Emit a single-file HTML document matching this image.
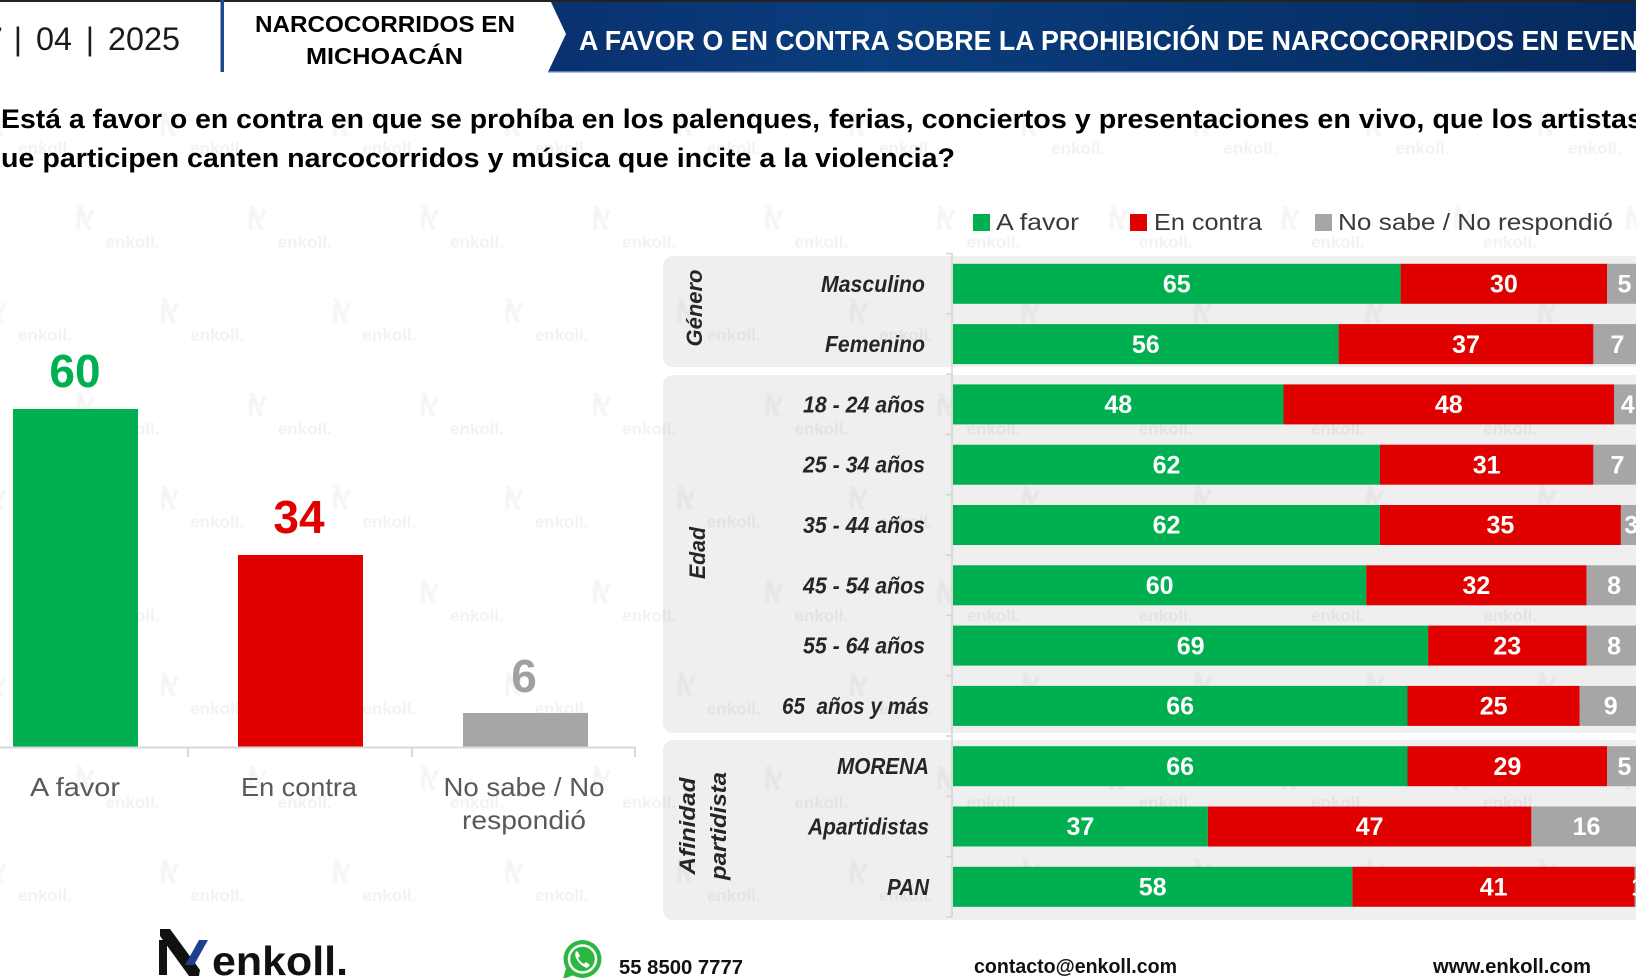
<!DOCTYPE html>
<html><head><meta charset="utf-8"><style>
html,body{margin:0;padding:0;background:#fff;}
svg{display:block;}
text{font-family:"Liberation Sans",Arial,sans-serif;}
</style></head><body>
<svg width="1636" height="978" viewBox="0 0 1636 978" xmlns="http://www.w3.org/2000/svg">
<defs>
<linearGradient id="bn" x1="0" x2="1" y1="0" y2="0">
<stop offset="0" stop-color="#0a3170"/>
<stop offset="0.3" stop-color="#0a3d7d"/>
<stop offset="1" stop-color="#062a5e"/>
</linearGradient>
<pattern id="wm" patternUnits="userSpaceOnUse" x="10" y="0" width="172.2" height="186.8">
<text x="122.5" y="61" font-size="17" font-weight="bold" text-anchor="middle" fill="#000" fill-opacity="0.05">enkoll.</text>
<text x="35" y="154" font-size="17" font-weight="bold" text-anchor="middle" fill="#000" fill-opacity="0.05">enkoll.</text>
<g fill="#000" fill-opacity="0.035">
<rect x="66.5" y="25" width="4" height="18"/>
<polygon points="66.5,19 71.5,19 81.5,43 76.5,43"/>
<polygon points="84.5,23 80.5,23 76.5,33 80.5,33"/>
<rect x="151" y="118" width="4" height="18"/>
<polygon points="151,112 156,112 166,136 161,136"/>
<polygon points="169,116 165,116 161,126 165,126"/>
</g>
</pattern>
</defs>
<rect width="1636" height="978" fill="#fff"/>

<!-- header -->
<polygon points="550,0 1636,0 1636,72 548,72 566,34" fill="url(#bn)"/>
<rect x="548" y="71" width="1088" height="1.5" fill="#5b7fb5"/>
<rect x="0" y="0" width="1636" height="2" fill="#222"/>
<text x="-15" y="50" font-size="32" fill="#1a1a1a">7</text>
<text x="13.8" y="50" font-size="32" fill="#1a1a1a">|</text>
<text x="36" y="50" font-size="32" fill="#1a1a1a" textLength="36" lengthAdjust="spacingAndGlyphs">04</text>
<text x="85.8" y="50" font-size="32" fill="#1a1a1a">|</text>
<text x="108" y="50" font-size="32" fill="#1a1a1a" textLength="72" lengthAdjust="spacingAndGlyphs">2025</text>
<rect x="220.5" y="0" width="3.5" height="72" fill="#1f4a8c"/>
<text x="255" y="32" font-size="23" font-weight="bold" fill="#000" textLength="260" lengthAdjust="spacingAndGlyphs">NARCOCORRIDOS EN</text>
<text x="306" y="64" font-size="23" font-weight="bold" fill="#000" textLength="157" lengthAdjust="spacingAndGlyphs">MICHOACÁN</text>
<text x="579" y="50" font-size="28" font-weight="bold" fill="#fff" textLength="1060" lengthAdjust="spacingAndGlyphs">A FAVOR O EN CONTRA SOBRE LA PROHIBICIÓN DE NARCOCORRIDOS EN EVEN</text>

<!-- watermark -->
<rect x="0" y="76" width="1636" height="856" fill="url(#wm)"/>

<!-- question -->
<text x="-15" y="128" font-size="27" font-weight="bold" fill="#000">¿</text>
<text x="1" y="128" font-size="27" font-weight="bold" fill="#000" textLength="819" lengthAdjust="spacingAndGlyphs">Está a favor o en contra en que se prohíba en los palenques,</text>
<text x="829" y="128" font-size="27" font-weight="bold" fill="#000" textLength="814" lengthAdjust="spacingAndGlyphs">ferias, conciertos y presentaciones en vivo, que los artistas</text>
<text x="-15" y="167" font-size="27" font-weight="bold" fill="#000">q</text>
<text x="1" y="167" font-size="27" font-weight="bold" fill="#000" textLength="954" lengthAdjust="spacingAndGlyphs">ue participen canten narcocorridos y música que incite a la violencia?</text>

<!-- legend -->
<rect x="973" y="214" width="17" height="17" fill="#00b050"/>
<text x="996" y="230" font-size="23" fill="#3a3a3a" textLength="83" lengthAdjust="spacingAndGlyphs">A favor</text>
<rect x="1130" y="214" width="17" height="17" fill="#e00000"/>
<text x="1154" y="230" font-size="23" fill="#3a3a3a" textLength="108" lengthAdjust="spacingAndGlyphs">En contra</text>
<rect x="1315" y="214" width="17" height="17" fill="#a6a6a6"/>
<text x="1338" y="230" font-size="23" fill="#3a3a3a" textLength="275" lengthAdjust="spacingAndGlyphs">No sabe / No respondió</text>

<!-- right panels -->
<rect x="663" y="256" width="1000" height="111" rx="10" fill="#efefef"/>
<rect x="663" y="375" width="1000" height="358" rx="10" fill="#efefef"/>
<rect x="663" y="740" width="1000" height="180" rx="10" fill="#efefef"/>
<rect x="663" y="256" width="973" height="664" fill="url(#wm)"/>

<!-- axis right -->
<line x1="952" y1="253" x2="952" y2="917" stroke="#d4d4d4" stroke-width="1.5"/>
<g stroke="#d4d4d4" stroke-width="1.5">
<line x1="946" y1="253.6" x2="952" y2="253.6"/>
<line x1="946" y1="313.9" x2="952" y2="313.9"/>
<line x1="946" y1="374.2" x2="952" y2="374.2"/>
<line x1="946" y1="434.5" x2="952" y2="434.5"/>
<line x1="946" y1="494.8" x2="952" y2="494.8"/>
<line x1="946" y1="555.1" x2="952" y2="555.1"/>
<line x1="946" y1="615.4" x2="952" y2="615.4"/>
<line x1="946" y1="675.7" x2="952" y2="675.7"/>
<line x1="946" y1="736.0" x2="952" y2="736.0"/>
<line x1="946" y1="796.3" x2="952" y2="796.3"/>
<line x1="946" y1="856.6" x2="952" y2="856.6"/>
<line x1="946" y1="916.9" x2="952" y2="916.9"/>
</g>

<!-- bars -->
<g>
<rect x="953" y="263.8" width="447.6" height="40" fill="#00b050"/><rect x="1400.6" y="263.8" width="206.6" height="40" fill="#e00000"/><rect x="1607.2" y="263.8" width="34.4" height="40" fill="#a6a6a6"/>
<rect x="953" y="324.1" width="385.6" height="40" fill="#00b050"/><rect x="1338.6" y="324.1" width="254.8" height="40" fill="#e00000"/><rect x="1593.4" y="324.1" width="48.2" height="40" fill="#a6a6a6"/>
<rect x="953" y="384.4" width="330.5" height="40" fill="#00b050"/><rect x="1283.5" y="384.4" width="330.5" height="40" fill="#e00000"/><rect x="1614" y="384.4" width="27.6" height="40" fill="#a6a6a6"/>
<rect x="953" y="444.7" width="426.9" height="40" fill="#00b050"/><rect x="1379.9" y="444.7" width="213.5" height="40" fill="#e00000"/><rect x="1593.4" y="444.7" width="48.2" height="40" fill="#a6a6a6"/>
<rect x="953" y="505.0" width="426.9" height="40" fill="#00b050"/><rect x="1379.9" y="505.0" width="241" height="40" fill="#e00000"/><rect x="1620.9" y="505.0" width="20.7" height="40" fill="#a6a6a6"/>
<rect x="953" y="565.3" width="413.2" height="40" fill="#00b050"/><rect x="1366.2" y="565.3" width="220.4" height="40" fill="#e00000"/><rect x="1586.6" y="565.3" width="55.1" height="40" fill="#a6a6a6"/>
<rect x="953" y="625.6" width="475.1" height="40" fill="#00b050"/><rect x="1428.1" y="625.6" width="158.4" height="40" fill="#e00000"/><rect x="1586.5" y="625.6" width="55.1" height="40" fill="#a6a6a6"/>
<rect x="953" y="685.9" width="454.5" height="40" fill="#00b050"/><rect x="1407.5" y="685.9" width="172.2" height="40" fill="#e00000"/><rect x="1579.7" y="685.9" width="62" height="40" fill="#a6a6a6"/>
<rect x="953" y="746.2" width="454.5" height="40" fill="#00b050"/><rect x="1407.5" y="746.2" width="199.7" height="40" fill="#e00000"/><rect x="1607.2" y="746.2" width="34.4" height="40" fill="#a6a6a6"/>
<rect x="953" y="806.5" width="254.8" height="40" fill="#00b050"/><rect x="1207.8" y="806.5" width="323.6" height="40" fill="#e00000"/><rect x="1531.4" y="806.5" width="110.2" height="40" fill="#a6a6a6"/>
<rect x="953" y="866.8" width="399.4" height="40" fill="#00b050"/><rect x="1352.4" y="866.8" width="282.3" height="40" fill="#e00000"/><rect x="1634.7" y="866.8" width="6.9" height="40" fill="#a6a6a6"/>
</g>

<!-- bar values -->
<g font-size="25" font-weight="bold" fill="#fff" text-anchor="middle">
<text x="1176.8" y="292.5">65</text><text x="1503.9" y="292.5">30</text><text x="1624.4" y="292.5">5</text>
<text x="1145.8" y="352.8">56</text><text x="1466" y="352.8">37</text><text x="1617.5" y="352.8">7</text>
<text x="1118.3" y="413.1">48</text><text x="1448.8" y="413.1">48</text><text x="1627.8" y="413.1">4</text>
<text x="1166.5" y="473.4">62</text><text x="1486.7" y="473.4">31</text><text x="1617.5" y="473.4">7</text>
<text x="1166.5" y="533.7">62</text><text x="1500.4" y="533.7">35</text><text x="1631.3" y="533.7">3</text>
<text x="1159.6" y="594">60</text><text x="1476.4" y="594">32</text><text x="1614.1" y="594">8</text>
<text x="1190.6" y="654.3">69</text><text x="1507.3" y="654.3">23</text><text x="1614.1" y="654.3">8</text>
<text x="1180.2" y="714.6">66</text><text x="1493.6" y="714.6">25</text><text x="1610.7" y="714.6">9</text>
<text x="1180.2" y="774.9">66</text><text x="1507.4" y="774.9">29</text><text x="1624.4" y="774.9">5</text>
<text x="1080.4" y="835.2">37</text><text x="1369.6" y="835.2">47</text><text x="1586.5" y="835.2">16</text>
<text x="1152.7" y="895.5">58</text><text x="1493.6" y="895.5">41</text><text x="1638.2" y="895.5">1</text>
</g>

<!-- row labels -->
<g font-size="23" font-weight="bold" font-style="italic" fill="#262626" text-anchor="end">
<text x="925" y="291.8" textLength="104" lengthAdjust="spacingAndGlyphs">Masculino</text>
<text x="925" y="352.1" textLength="100" lengthAdjust="spacingAndGlyphs">Femenino</text>
<text x="925" y="412.4" textLength="122" lengthAdjust="spacingAndGlyphs">18 - 24 años</text>
<text x="925" y="472.7" textLength="122" lengthAdjust="spacingAndGlyphs">25 - 34 años</text>
<text x="925" y="533" textLength="122" lengthAdjust="spacingAndGlyphs">35 - 44 años</text>
<text x="925" y="593.3" textLength="122" lengthAdjust="spacingAndGlyphs">45 - 54 años</text>
<text x="925" y="653.6" textLength="122" lengthAdjust="spacingAndGlyphs">55 - 64 años</text>
<text x="929" y="713.9" textLength="147" lengthAdjust="spacingAndGlyphs">65&#160; años y más</text>
<text x="929" y="774.2" textLength="92" lengthAdjust="spacingAndGlyphs">MORENA</text>
<text x="929" y="834.5" textLength="121" lengthAdjust="spacingAndGlyphs">Apartidistas</text>
<text x="929" y="894.8" textLength="42" lengthAdjust="spacingAndGlyphs">PAN</text>
</g>

<!-- group labels -->
<g font-size="22" font-weight="bold" font-style="italic" fill="#262626" text-anchor="middle">
<text transform="translate(702,308) rotate(-90)" textLength="77" lengthAdjust="spacingAndGlyphs">Género</text>
<text transform="translate(705,553) rotate(-90)" textLength="52" lengthAdjust="spacingAndGlyphs">Edad</text>
<text transform="translate(695,826) rotate(-90)" textLength="97" lengthAdjust="spacingAndGlyphs">Afinidad</text>
<text transform="translate(726,826) rotate(-90)" textLength="108" lengthAdjust="spacingAndGlyphs">partidista</text>
</g>

<!-- left chart -->
<rect x="13" y="409" width="125" height="338" fill="#00b050"/>
<rect x="238" y="555" width="125" height="192" fill="#e00000"/>
<rect x="463" y="713" width="125" height="34" fill="#a6a6a6"/>
<line x1="0" y1="747.5" x2="636" y2="747.5" stroke="#d9d9d9" stroke-width="2"/>
<g stroke="#d9d9d9" stroke-width="2">
<line x1="188" y1="747" x2="188" y2="757"/>
<line x1="412" y1="747" x2="412" y2="757"/>
<line x1="635" y1="747" x2="635" y2="757"/>
</g>
<text x="75" y="387" font-size="46" font-weight="bold" fill="#00b050" text-anchor="middle">60</text>
<text x="299" y="533" font-size="46" font-weight="bold" fill="#e00000" text-anchor="middle">34</text>
<text x="524" y="692" font-size="46" font-weight="bold" fill="#a0a0a0" text-anchor="middle">6</text>
<g font-size="26" fill="#595959" text-anchor="middle">
<text x="75" y="796" textLength="90" lengthAdjust="spacingAndGlyphs">A favor</text>
<text x="299" y="796" textLength="116" lengthAdjust="spacingAndGlyphs">En contra</text>
<text x="524" y="796" textLength="161" lengthAdjust="spacingAndGlyphs">No sabe / No</text>
<text x="524" y="829" textLength="124" lengthAdjust="spacingAndGlyphs">respondió</text>
</g>

<!-- footer -->
<rect x="159" y="940" width="8" height="35" fill="#111"/>
<polygon points="160,929 170,929 200,970 199,976 189,976 160,936" fill="#111"/>
<polygon points="199,940 208,940 194,965 185,965" fill="#1f3f91"/>
<text x="212" y="975" font-size="41" font-weight="bold" fill="#111" textLength="136" lengthAdjust="spacingAndGlyphs">enkoll.</text>

<circle cx="582.5" cy="959" r="19" fill="#2db742"/>
<polygon points="566,968 563,979 574,975" fill="#2db742"/>
<circle cx="582.5" cy="959" r="13.5" fill="none" stroke="#fff" stroke-width="2.5"/>
<path d="M576,951 q-2,4 1,9 q4,6 10,8 l3,-3 l-4,-3 l-2,2 q-4,-2 -6,-6 l2,-2 l-2,-4 z" fill="#fff"/>
<text x="619" y="974" font-size="20" font-weight="bold" fill="#111" textLength="124" lengthAdjust="spacingAndGlyphs">55 8500 7777</text>
<text x="974" y="973" font-size="20" font-weight="bold" fill="#111" textLength="203" lengthAdjust="spacingAndGlyphs">contacto@enkoll.com</text>
<text x="1433" y="973" font-size="20" font-weight="bold" fill="#111" textLength="158" lengthAdjust="spacingAndGlyphs">www.enkoll.com</text>
</svg>
</body></html>
